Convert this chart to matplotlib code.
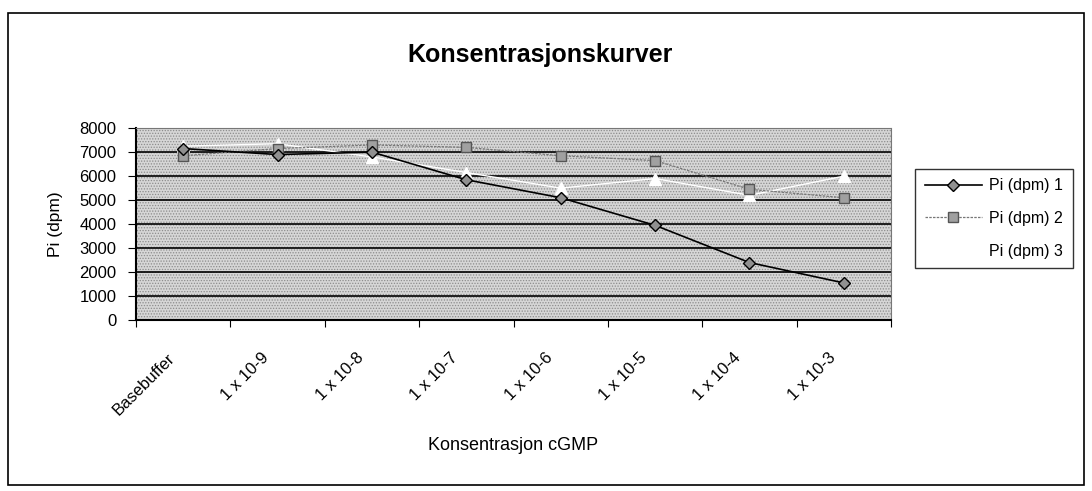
import numpy as np
import matplotlib
matplotlib.use('Agg')
import matplotlib.pyplot as plt
from matplotlib.patches import Rectangle
from matplotlib.transforms import ScaledTranslation

plt.rcParams['font.family'] = ['Liberation Sans', 'DejaVu Sans']
plt.rcParams['hatch.linewidth'] = 0.6

# ── data ─────────────────────────────────────────────────────────────────────
categories = ['Basebuffer', '1 x 10-9', '1 x 10-8', '1 x 10-7',
              '1 x 10-6', '1 x 10-5', '1 x 10-4', '1 x 10-3']
pi_1 = [7150, 6900, 7000, 5850, 5100, 3950, 2400, 1550]
pi_2 = [6850, 7150, 7300, 7200, 6850, 6650, 5450, 5100]
pi_3 = [7250, 7350, 6800, 6150, 5500, 5900, 5200, 6000]
series_names = ['Pi (dpm) 1', 'Pi (dpm) 2', 'Pi (dpm) 3']
y_ticks = [0, 1000, 2000, 3000, 4000, 5000, 6000, 7000, 8000]

# ── figure ───────────────────────────────────────────────────────────────────
fig = plt.figure(figsize=(10.92, 4.91), dpi=100)
ax = fig.add_axes([0.1245, 0.348, 0.6915, 0.391])

# stippled grey plot area
ax.set_facecolor('#d6d6d6')
ax.add_patch(Rectangle((0, 0), 1, 1, transform=ax.transAxes, facecolor='none',
                       edgecolor='#8c8c8c', hatch='......', lw=0, zorder=0))

x = np.arange(len(categories))
ax.plot(x, pi_3, color='white', lw=1.0, marker='^', ms=9, mfc='white',
        mec='white', zorder=3, label=series_names[2])
ax.plot(x, pi_2, color='#777777', lw=0.9, ls=(0, (2, 1)), marker='s', ms=7,
        mfc='#a0a0a0', mec='#555555', zorder=4, label=series_names[1])
ax.plot(x, pi_1, color='black', lw=1.2, marker='D', ms=6,
        mfc='#909090', mec='black', zorder=5, label=series_names[0])

ax.set_xlim(-0.5, len(categories) - 0.5)
ax.set_ylim(0, 8000)
ax.set_yticks(y_ticks)
ax.set_yticklabels([str(v) for v in y_ticks], fontsize=12)
ax.yaxis.grid(True, color='black', lw=1.2)
ax.set_axisbelow(True)

# tick marks between categories (Excel style), labels drawn as rotated text
ax.set_xticks(np.arange(len(categories) + 1) - 0.5)
ax.set_xticklabels([])
ax.tick_params(axis='x', which='major', length=5, color='black', direction='out')
ax.tick_params(axis='y', length=6, color='black', pad=8)
lbl_trans = ax.get_xaxis_transform() + ScaledTranslation(-0.16, -0.30, fig.dpi_scale_trans)
for xi, cat in zip(x, categories):
    ax.text(xi, 0, cat, transform=lbl_trans, rotation=45, ha='right', va='top',
            rotation_mode='anchor', fontsize=12, clip_on=False)

for side in ['top', 'right']:
    ax.spines[side].set_color('#777777')
    ax.spines[side].set_linestyle((0, (1, 1)))
    ax.spines[side].set_linewidth(0.8)
ax.spines['left'].set_linewidth(1.5)
ax.spines['bottom'].set_linewidth(1.5)

ax.set_ylabel('Pi (dpm)', fontsize=12.5, labelpad=12)
fig.text(0.470, 1 - 445 / 491, 'Konsentrasjon cGMP', ha='center', va='center',
         fontsize=13)
fig.text(0.495, 1 - 55 / 491, 'Konsentrasjonskurver', ha='center', va='center',
         fontsize=18, fontweight='bold')

# legend in the same order as the original
h, l = ax.get_legend_handles_labels()
leg = ax.legend(h[::-1], l[::-1], loc='upper left',
                bbox_to_anchor=(0.838, 0.656), bbox_transform=fig.transFigure,
                borderaxespad=0, frameon=True, fancybox=False, fontsize=11.5,
                handlelength=3.6, handletextpad=0.45, borderpad=0.6,
                labelspacing=1.1)
leg.get_frame().set_edgecolor('black')
leg.get_frame().set_linewidth(1.0)

# outer chart border
fig.add_artist(Rectangle((0.007, 0.012), 0.986, 0.962, transform=fig.transFigure,
                         fill=False, edgecolor='black', lw=1.2))

plt.savefig('out.png', dpi=100)
